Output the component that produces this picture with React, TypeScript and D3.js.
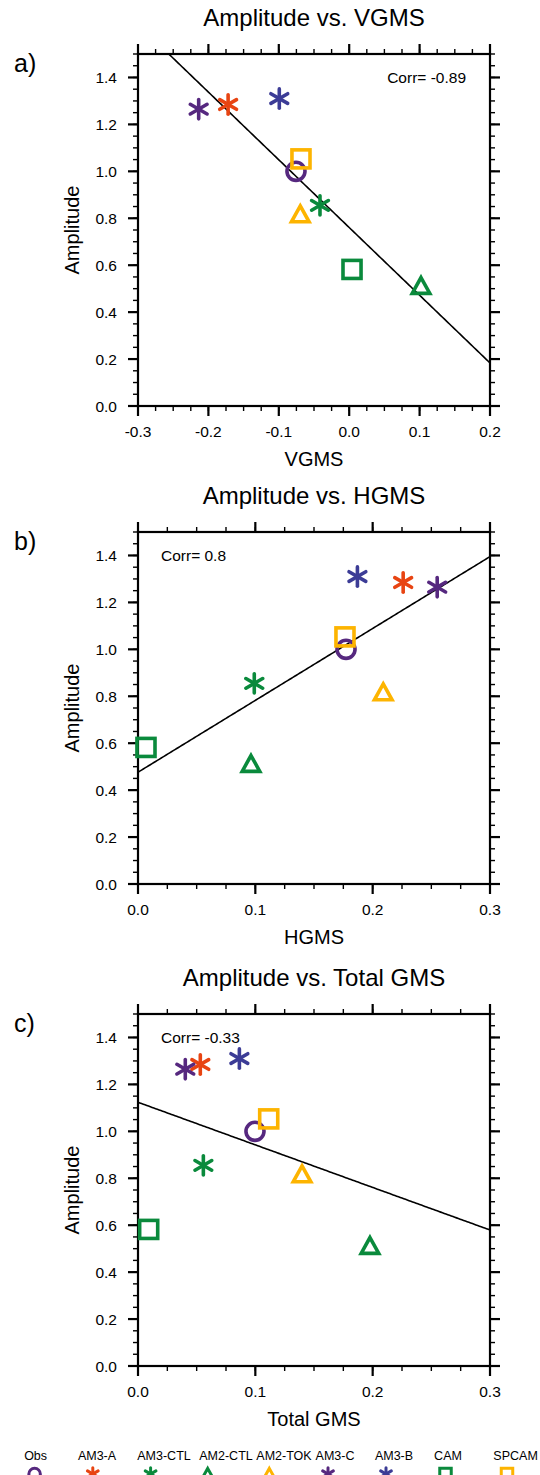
import React from "react";
import * as d3 from "d3";

const models = ["Obs", "AM3-A", "AM3-CTL", "AM2-CTL", "AM2-TOK", "AM3-C", "AM3-B", "CAM", "SPCAM"];
const markerShapes = ["circle", "asterisk", "asterisk", "triangle", "triangle", "asterisk", "asterisk", "square", "square"];
const modelColors = ["#56287f", "#e84412", "#0a8a3c", "#0a8a3c", "#fdb400", "#56287f", "#3c3c96", "#0a8a3c", "#fdb400"];
const amplitude = [1.0, 1.285, 0.855, 0.51, 0.815, 1.265, 1.31, 0.582, 1.053];
const vgms = [-0.0756, -0.172, -0.0415, 0.102, -0.0695, -0.2138, -0.0993, 0.004, -0.0685];
const hgms = [0.1773, 0.226, 0.0991, 0.0963, 0.209, 0.255, 0.187, 0.0068, 0.1764];
const totalGms = [0.0997, 0.0531, 0.0557, 0.1977, 0.1398, 0.0403, 0.0864, 0.0091, 0.1114];

const panelTitles = ["Amplitude vs. VGMS", "Amplitude vs. HGMS", "Amplitude vs. Total GMS"];
const panelLetters = ["a)", "b)", "c)"];
const xTitles = ["VGMS", "HGMS", "Total GMS"];
const corrLabels = ["Corr= -0.89", "Corr= 0.8", "Corr= -0.33"];
const xDomains: [number, number][] = [[-0.3, 0.2], [0, 0.3], [0, 0.3]];
const yDomain: [number, number] = [0, 1.5];
const yTicks = [0, 0.2, 0.4, 0.6, 0.8, 1.0, 1.2, 1.4];
const xTickSets = [[-0.3, -0.2, -0.1, 0.0, 0.1, 0.2], [0, 0.1, 0.2, 0.3], [0, 0.1, 0.2, 0.3]];

const FONT = "'Liberation Sans', Arial, Helvetica, sans-serif";
const W = 540, H = 1475;
const LEFT = 138, SIZE = 352;
const TOPS = [54, 532, 1014];
const corrAnchor = ["end", "start", "start"];

const fmt = (v: number) => d3.format(".1f")(v).replace("\u2212", "-");

function Marker({ shape, color, x, y, s, sw }: { shape: string; color: string; x: number; y: number; s: number; sw: number }) {
  if (shape === "circle") {
    return <circle cx={x} cy={y} r={s * 0.82} fill="none" stroke={color} strokeWidth={sw} />;
  }
  if (shape === "square") {
    const h = s * 0.82;
    return <rect x={x - h} y={y - h} width={2 * h} height={2 * h} fill="none" stroke={color} strokeWidth={sw} />;
  }
  if (shape === "triangle") {
    const w = s * 0.8;
    const pts = [[x, y - w], [x + w, y + w * 0.8], [x - w, y + w * 0.8]];
    return <polygon points={pts.map((p) => p.join(",")).join(" ")} fill="none" stroke={color} strokeWidth={sw} strokeLinejoin="miter" />;
  }
  const angles = [90, 30, 150].map((a) => (a * Math.PI) / 180);
  const r = s * 0.88;
  return (
    <g stroke={color} strokeWidth={sw} strokeLinecap="round">
      {angles.map((a, i) => (
        <line key={i} x1={x - r * Math.cos(a)} y1={y - r * Math.sin(a)} x2={x + r * Math.cos(a)} y2={y + r * Math.sin(a)} />
      ))}
    </g>
  );
}

function Panel({ idx, xs }: { idx: number; xs: number[] }) {
  const top = TOPS[idx];
  const bottom = top + SIZE;
  const right = LEFT + SIZE;
  const x = d3.scaleLinear().domain(xDomains[idx]).range([LEFT, right]);
  const y = d3.scaleLinear().domain(yDomain).range([bottom, top]);
  const [x0, x1] = xDomains[idx];
  const minorX = d3.range(Math.round((x1 - x0) / 0.025) + 1).map((i) => x0 + i * 0.025);
  const minorY = d3.range(31).map((i) => i * 0.05);

  const mx = d3.mean(xs)!;
  const my = d3.mean(amplitude)!;
  const sxy = d3.sum(xs.map((v, i) => (v - mx) * (amplitude[i] - my)));
  const sxx = d3.sum(xs.map((v) => (v - mx) ** 2));
  const slope = sxy / sxx;
  const icpt = my - slope * mx;
  const lineData = d3.range(201).map((i) => x0 + ((x1 - x0) * i) / 200);
  const lineGen = d3
    .line<number>()
    .x((v) => x(v))
    .y((v) => y(icpt + slope * v));

  const clipId = `clip${idx}`;
  const MAJ = 10, MIN = 5;
  return (
    <g>
      <defs>
        <clipPath id={clipId}>
          <rect x={LEFT} y={top} width={SIZE} height={SIZE} />
        </clipPath>
      </defs>
      <text x={(LEFT + right) / 2} y={top - 28} textAnchor="middle" fontSize={24} fontFamily={FONT}>
        {panelTitles[idx]}
      </text>
      <text x={14} y={top + 17.5} fontSize={25} fontFamily={FONT}>
        {panelLetters[idx]}
      </text>
      <path d={lineGen(lineData) || ""} fill="none" stroke="#000" strokeWidth={1.6} clipPath={`url(#${clipId})`} />
      <g stroke="#000" strokeWidth={1.4}>
        {minorX.map((v, i) => (
          <g key={"mx" + i}>
            <line x1={x(v)} x2={x(v)} y1={bottom} y2={bottom + MIN} />
            <line x1={x(v)} x2={x(v)} y1={top} y2={top - MIN} />
          </g>
        ))}
        {minorY.map((v, i) => (
          <g key={"my" + i}>
            <line x1={LEFT} x2={LEFT - MIN} y1={y(v)} y2={y(v)} />
            <line x1={right} x2={right + MIN} y1={y(v)} y2={y(v)} />
          </g>
        ))}
      </g>
      <g stroke="#000" strokeWidth={2.2}>
        {xTickSets[idx].map((v, i) => (
          <g key={"Mx" + i}>
            <line x1={x(v)} x2={x(v)} y1={bottom} y2={bottom + MAJ} />
            <line x1={x(v)} x2={x(v)} y1={top} y2={top - MAJ} />
          </g>
        ))}
        {yTicks.map((v, i) => (
          <g key={"My" + i}>
            <line x1={LEFT} x2={LEFT - MAJ} y1={y(v)} y2={y(v)} />
            <line x1={right} x2={right + MAJ} y1={y(v)} y2={y(v)} />
          </g>
        ))}
      </g>
      <rect x={LEFT} y={top} width={SIZE} height={SIZE} fill="none" stroke="#000" strokeWidth={2.2} />
      <g fontSize={15.5} fontFamily={FONT}>
        {xTickSets[idx].map((v, i) => (
          <text key={"lx" + i} x={x(v)} y={bottom + 31} textAnchor="middle">
            {fmt(v)}
          </text>
        ))}
        {yTicks.map((v, i) => (
          <text key={"ly" + i} x={117} y={y(v) + 5.5} textAnchor="end">
            {fmt(v)}
          </text>
        ))}
      </g>
      <text x={(LEFT + right) / 2} y={bottom + 60} textAnchor="middle" fontSize={20} fontFamily={FONT}>
        {xTitles[idx]}
      </text>
      <text transform={`translate(79,${(top + bottom) / 2}) rotate(-90)`} textAnchor="middle" fontSize={20} fontFamily={FONT}>
        Amplitude
      </text>
      <text
        x={corrAnchor[idx] === "end" ? 466 : 161}
        y={top + 29}
        textAnchor={corrAnchor[idx] as any}
        fontSize={15.5}
        fontFamily={FONT}
      >
        {corrLabels[idx]}
      </text>
      {xs.map((v, i) => (
        <Marker key={"m" + i} shape={markerShapes[i]} color={modelColors[i]} x={x(v)} y={y(amplitude[i])} s={11} sw={3.6} />
      ))}
    </g>
  );
}

const legendLabelX = [35.6, 97, 164, 226, 284, 335, 394, 448, 515.6];
const legendMarkerX = [34.6, 92.8, 150.6, 207.7, 269.3, 328, 386, 445.5, 507];

export default function App() {
  const series = [vgms, hgms, totalGms];
  return (
    <svg width={W} height={H} style={{ position: "absolute", left: 0, top: 0, background: "#fff" }}>
      <rect x={0} y={0} width={W} height={H} fill="#fff" />
      {series.map((xs, i) => (
        <Panel key={i} idx={i} xs={xs} />
      ))}
      <g fontSize={12.5} fontFamily={FONT}>
        {models.map((m, i) => (
          <text key={"lt" + i} x={legendLabelX[i]} y={1460} textAnchor="middle">
            {m}
          </text>
        ))}
      </g>
      {models.map((m, i) => (
        <Marker key={"lm" + i} shape={markerShapes[i]} color={modelColors[i]} x={legendMarkerX[i]} y={1474} s={7} sw={3} />
      ))}
    </svg>
  );
}
